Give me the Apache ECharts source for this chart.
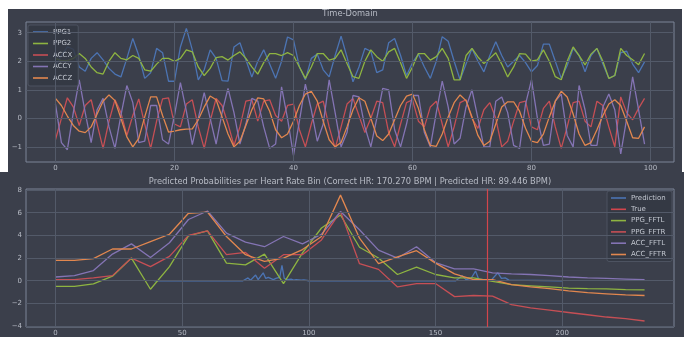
<!DOCTYPE html>
<html><head><meta charset="utf-8">
<script src="https://cdn.jsdelivr.net/npm/echarts@6/dist/echarts.min.js"></script>
<style>html,body{margin:0;padding:0;background:#ffffff}#c{width:684px;height:337px}</style>
</head><body><div id="c"></div>
<script>
// ---------- Top panel: time-domain signals (sample index 0..99) ----------
const ppg1 = [1.85,2.2,2.5,2.42,1.8,1.65,2.1,2.3,2.05,1.75,1.55,1.45,2.1,2.8,2.2,1.4,1.6,2.45,2.3,1.3,
1.3,2.5,3.15,2.4,1.35,1.7,2.4,2.1,1.32,1.3,2.5,2.65,2.05,1.45,2.0,2.4,1.9,1.4,2.0,2.85,
2.75,1.8,1.35,2.1,2.25,1.7,1.45,2.2,2.88,2.15,1.28,1.8,2.45,2.35,1.6,1.7,2.65,2.8,2.2,1.5,
1.95,2.25,1.8,1.4,2.0,2.86,2.7,2.0,1.35,1.9,2.45,2.0,1.63,2.2,2.68,2.2,1.8,2.0,2.2,1.95,
1.63,1.85,2.6,2.6,2.0,1.4,1.85,2.45,2.2,1.63,2.2,2.45,1.9,1.4,1.5,2.3,2.35,1.9,1.6,1.98];
const ppg2 = [2.1,2.02,2.02,2.1,2.27,2.1,1.8,1.6,1.55,2.0,2.3,2.1,2.05,2.2,2.1,1.7,1.65,1.9,2.1,2.1,
2.0,2.1,2.4,2.33,1.8,1.5,1.75,2.13,2.16,2.04,2.2,2.33,2.1,1.8,1.55,1.95,2.27,2.27,2.2,2.3,
2.2,1.8,1.4,1.8,2.27,2.27,2.04,2.1,2.4,1.92,1.46,1.4,2.0,2.4,2.16,2.0,2.33,2.45,1.95,1.4,
1.8,2.27,2.27,2.04,2.16,2.45,2.1,1.35,1.35,2.2,2.45,2.15,1.92,2.1,2.3,1.9,1.45,1.8,2.27,2.25,
2.0,2.05,2.4,2.0,1.46,1.35,2.0,2.5,2.2,1.87,2.25,2.45,2.0,1.4,1.5,2.45,2.2,2.05,1.88,2.27];
const accx = [-0.75,0.0,0.72,0.4,-0.25,0.45,0.65,-0.2,-1.05,-0.1,0.65,0.2,-0.6,0.1,0.68,-0.2,-1.05,-0.1,0.68,0.72,
-0.2,-0.3,0.5,0.65,-0.3,-1.05,-0.1,0.7,0.45,-0.2,-0.95,-0.3,0.6,0.65,-0.1,0.6,0.65,0.1,-0.1,0.45,
0.5,-0.4,-1.0,-0.2,0.5,0.6,-0.3,-1.05,-0.3,0.5,0.7,0.1,-0.5,0.0,0.6,0.55,-0.5,-1.0,-0.2,0.55,
0.65,-0.1,-0.3,0.4,0.6,-0.2,-1.0,-0.3,0.55,0.65,0.0,-0.35,0.3,0.55,0.0,-1.0,-0.8,-0.1,0.55,0.6,
-0.3,-0.4,0.35,0.6,-0.3,-1.05,-0.3,0.55,0.6,-0.1,-0.3,0.6,0.45,-0.3,-1.0,0.75,0.2,-0.05,0.35,0.7];
const accy = [0.5,-0.85,-1.1,0.2,1.35,0.2,-0.85,0.3,0.7,-0.3,-1.05,0.1,1.15,0.55,-0.85,-0.8,0.45,0.45,-0.75,-0.9,
0.1,1.25,0.25,-0.92,0.0,0.9,0.0,-0.9,0.2,1.05,0.2,-0.9,-0.2,0.7,0.6,-0.3,-1.05,-0.9,1.1,0.0,
-1.3,-0.1,1.2,0.3,-0.8,-0.2,1.35,0.2,-1.0,-0.5,0.8,0.75,-0.3,-1.0,0.0,1.05,1.0,-0.4,-1.0,-0.2,
0.8,0.8,-0.5,-1.0,0.2,1.3,0.4,-0.9,-0.7,0.4,1.0,0.0,-1.0,-1.0,0.6,0.75,0.2,-0.95,-1.05,0.5,
1.35,0.0,-0.95,-0.9,0.6,0.85,-0.6,-1.0,1.15,0.3,-0.95,-0.95,0.4,0.85,0.3,-1.25,0.0,1.45,0.3,-0.9];
const accz = [0.7,0.45,0.08,-0.25,-0.45,-0.5,-0.3,0.15,0.6,0.82,0.62,0.0,-0.65,-1.0,-0.7,0.05,0.75,0.75,0.1,-0.48,
-0.45,-0.4,-0.38,-0.37,-0.05,0.4,0.78,0.65,0.05,-0.55,-1.0,-0.8,-0.25,0.3,0.72,0.68,0.25,-0.4,-0.68,-0.55,
-0.1,0.45,0.85,0.95,0.6,-0.1,-0.75,-1.0,-0.85,-0.3,0.3,0.72,0.6,0.0,-0.62,-0.78,-0.55,-0.05,0.45,0.78,
0.85,0.35,-0.4,-0.95,-0.98,-0.55,0.05,0.55,0.82,0.62,0.05,-0.6,-0.95,-0.8,-0.2,0.4,0.58,0.58,0.25,-0.35,
-0.8,-0.85,-0.55,0.05,0.6,0.95,0.75,0.15,-0.55,-0.95,-0.85,-0.4,0.1,0.5,0.65,0.45,-0.1,-0.68,-0.7,-0.3];
const topXTicks = [0,20,40,60,80,100];
const topYTicks = [-1,0,1,2,3];

// ---------- Bottom panel: per-bin probabilities ----------
const binBpm = [0,7.5,15,22.5,30,37.5,45,52.5,60,67.5,75,82.5,90,97.5,105,112.5,120,127.5,135,142.5,
150,157.5,165,172.5,180,187.5,195,202.5,210,217.5,225,232.5];
const ppgFFTL = [-0.5,-0.5,-0.27,0.4,2.0,-0.75,1.25,3.95,4.4,1.55,1.4,2.35,-0.25,2.45,4.65,5.8,2.95,2.0,0.55,1.2,
0.55,0.25,0.25,-0.05,-0.35,-0.45,-0.55,-0.65,-0.7,-0.72,-0.78,-0.8];
const ppgFFTR = [0.1,0.1,0.25,0.45,2.0,1.25,2.15,4.0,4.4,2.3,2.5,1.1,2.3,2.3,3.6,6.1,1.5,1.0,-0.55,-0.25,
-0.25,-1.4,-1.3,-1.35,-2.1,-2.4,-2.6,-2.8,-3.0,-3.2,-3.35,-3.55];
const accFFTL = [0.33,0.45,0.9,2.35,3.25,2.05,3.35,5.4,6.15,4.2,3.4,3.0,3.9,3.25,4.1,6.1,4.5,2.7,2.0,3.0,
1.6,1.05,1.05,0.7,0.6,0.55,0.45,0.33,0.25,0.2,0.15,0.1];
const accFFTR = [1.8,1.8,1.95,2.8,2.8,3.45,4.1,5.95,6.05,3.9,2.3,1.7,2.0,2.75,3.9,7.55,3.75,1.5,2.1,2.65,
1.55,0.6,0.1,0.1,-0.35,-0.55,-0.7,-0.9,-1.05,-1.15,-1.25,-1.3];
const predBpm = [39,74,76,77,79,80,82,83,84,86,87,88.5,89.4,90.3,91.5,93,94,95,97,98,100,
158,160.5,162,164,165.8,167,169,172,174.6,176,177.5,179,200];
const predVal = [0,0,0.25,0.05,0.5,0.1,0.7,0.2,0.3,0.1,0.2,0.3,1.35,0.2,0.1,0.15,0.05,0.1,0.05,0.08,0,
0,0.45,0.1,0.2,0.85,0.15,0.1,0.05,0.7,0.2,0.25,0.05,0];
const trueHR = 170.27;
const botXTicks = [0,50,100,150,200];
const botYTicks = [-4,-2,0,2,4,6,8];

// ---------- styling ----------
const BG = '#3b3f4b', GRID = '#535a69', FRAME = '#7c8598', TXT = '#b7bbc5';
const C = {blue:'#4c74b3', green:'#8eb441', red:'#c64f55', purple:'#8474b4', orange:'#e2874f', trueRed:'#d2454c'};
const FONT = 'DejaVu Sans';

const zip = (xs, ys) => ys.map((v, i) => [xs[i], v]);
const idx = ys => ys.map((v, i) => [i, v]);
function line(name, data, color, g) {
  return {name, type:'line', data, xAxisIndex:g, yAxisIndex:g, showSymbol:false, symbol:'none',
    lineStyle:{color, width:1.3}, itemStyle:{color}, z:3, animation:false, silent:true};
}
function gridLines(g, xs, ys) {
  return {type:'line', data:[], xAxisIndex:g, yAxisIndex:g, z:1, silent:true, animation:false,
    markLine:{silent:true, symbol:['none','none'], label:{show:false}, animation:false,
      lineStyle:{color:GRID, width:1, type:'solid'},
      data: xs.map(v=>({xAxis:v})).concat(ys.map(v=>({yAxis:v})))}};
}
const axisLbl = vals => ({customValues: vals, color:TXT, fontSize:7, fontFamily:FONT, margin:3});
function xAx(g, min, max, ticks) {
  return {gridIndex:g, type:'value', min, max, axisLine:{show:false}, axisTick:{show:false},
    splitLine:{show:false}, axisLabel:axisLbl(ticks)};
}
function yAx(g, min, max, ticks) {
  return {gridIndex:g, type:'value', min, max, axisLine:{show:false}, axisTick:{show:false},
    splitLine:{show:false}, axisLabel:Object.assign(axisLbl(ticks), {margin:4,
      formatter: v => (v < 0 ? '\u2212' + Math.abs(v) : String(v))})};
}

const chart = echarts.init(document.getElementById('c'), null, {renderer:'canvas'});
const trueSeries = {name:'True', type:'line', data:[], xAxisIndex:1, yAxisIndex:1, z:4,
  itemStyle:{color:C.trueRed}, lineStyle:{color:C.trueRed, width:1.2}, animation:false, silent:true,
  markLine:{silent:true, symbol:['none','none'], label:{show:false}, animation:false,
    lineStyle:{color:C.trueRed, width:1.2, type:'solid'}, data:[{xAxis:trueHR}]}};

chart.setOption({
  backgroundColor: BG,
  animation:false,
  graphic:[
    {type:'rect', shape:{x:0,y:0,width:684,height:9}, style:{fill:'#ffffff'}, z:100},
    {type:'rect', shape:{x:0,y:0,width:8,height:172}, style:{fill:'#ffffff'}, z:100},
    {type:'rect', shape:{x:682,y:0,width:2,height:172}, style:{fill:'#ffffff'}, z:100}
  ],
  title:[
    {text:'Time-Domain', left:350, top:10, textAlign:'center', padding:0,
      textStyle:{color:TXT, fontSize:8.3, fontWeight:'normal', fontFamily:FONT}},
    {text:'Predicted Probabilities per Heart Rate Bin (Correct HR: 170.270 BPM | Predicted HR: 89.446 BPM)',
      left:350, top:178, textAlign:'center', padding:0,
      textStyle:{color:TXT, fontSize:8.3, fontWeight:'normal', fontFamily:FONT}}
  ],
  grid:[
    {left:26, top:22, width:648, height:140, show:true, backgroundColor:BG, borderColor:FRAME, borderWidth:1},
    {left:26, top:189, width:648, height:138.7, show:true, backgroundColor:BG, borderColor:FRAME, borderWidth:1}
  ],
  xAxis:[ xAx(0, -4.95, 103.95, topXTicks), xAx(1, -11.62, 244.12, botXTicks) ],
  yAxis:[ yAx(0, -1.53, 3.375, topYTicks), yAx(1, -4.08, 8.09, botYTicks) ],
  legend:[
    {data:['PPG1','PPG2','ACCX','ACCY','ACCZ'], orient:'vertical', left:28, top:25,
      padding:[3,6,4,5], itemGap:3.5, itemWidth:15, itemHeight:1.6, icon:'rect',
      backgroundColor:'rgba(52,56,67,0.85)', borderColor:'#4d5361', borderWidth:1, borderRadius:2,
      textStyle:{color:'#c3c7d0', fontSize:7, fontFamily:FONT, lineHeight:8}, selectedMode:false},
    {data:['Prediction','True','PPG_FFTL','PPG_FFTR','ACC_FFTL','ACC_FFTR'], orient:'vertical', left:607, top:191,
      padding:[3,6,3,4], itemGap:3.3, itemWidth:15, itemHeight:1.6, icon:'rect',
      backgroundColor:'rgba(52,56,67,0.85)', borderColor:'#4d5361', borderWidth:1, borderRadius:2,
      textStyle:{color:'#c3c7d0', fontSize:7, fontFamily:FONT, lineHeight:8}, selectedMode:false}
  ],
  series:[
    gridLines(0, topXTicks, topYTicks),
    gridLines(1, botXTicks, botYTicks),
    line('PPG1', idx(ppg1), C.blue, 0),
    line('PPG2', idx(ppg2), C.green, 0),
    line('ACCX', idx(accx), C.red, 0),
    line('ACCY', idx(accy), C.purple, 0),
    line('ACCZ', idx(accz), C.orange, 0),
    line('Prediction', zip(predBpm, predVal), C.blue, 1),
    trueSeries,
    line('PPG_FFTL', zip(binBpm, ppgFFTL), C.green, 1),
    line('PPG_FFTR', zip(binBpm, ppgFFTR), C.red, 1),
    line('ACC_FFTL', zip(binBpm, accFFTL), C.purple, 1),
    line('ACC_FFTR', zip(binBpm, accFFTR), C.orange, 1)
  ]
});
</script></body></html>
